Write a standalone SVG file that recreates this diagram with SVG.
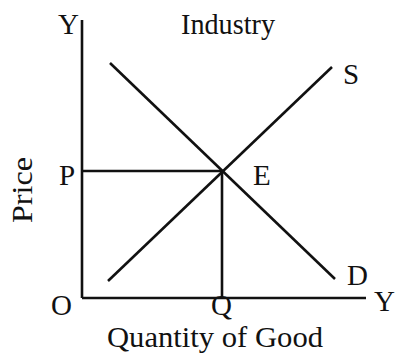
<svg xmlns="http://www.w3.org/2000/svg" width="395" height="354" viewBox="0 0 395 354">
<style>
text{font-family:"Liberation Serif","Times New Roman",serif;font-size:29px;fill:#111}
.ln{stroke:#111;stroke-width:2.6;fill:none}
</style>
<rect width="395" height="354" fill="#fff"/>
<g id="axes">
<line class="ln" x1="82" y1="20" x2="82" y2="298"/>
<line class="ln" x1="82" y1="298" x2="366" y2="298"/>
</g>
<g id="connectors">
<line class="ln" x1="82" y1="171" x2="222" y2="171"/>
<line class="ln" x1="222" y1="171" x2="222" y2="298"/>
</g>
<g id="demand"><line class="ln" x1="110" y1="63" x2="335" y2="279"/><text x="347" y="285">D</text></g>
<g id="supply"><line class="ln" x1="108" y1="281" x2="332" y2="67"/><text x="343" y="84">S</text></g>
<g id="labels">
<text x="58" y="34">Y</text>
<text x="181" y="34" textLength="94" lengthAdjust="spacingAndGlyphs">Industry</text>
<text x="59" y="185">P</text>
<text x="253" y="185">E</text>
<text x="51" y="315">O</text>
<text x="211" y="315">Q</text>
<text x="374" y="311">Y</text>
<text x="107" y="347" textLength="216" lengthAdjust="spacingAndGlyphs">Quantity of Good</text>
<text transform="translate(32,190) rotate(-90)" text-anchor="middle" textLength="66" lengthAdjust="spacingAndGlyphs">Price</text>
</g>
</svg>
